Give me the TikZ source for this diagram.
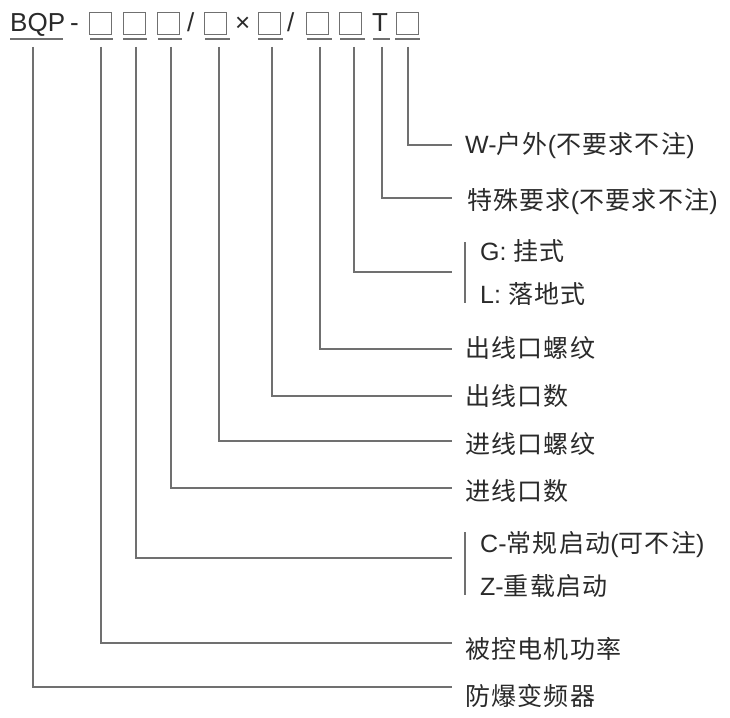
\documentclass[tikz,border=0pt]{standalone}
\usepackage{fontspec}
\setmainfont{Liberation Sans}
\newfontfamily\cjk{Noto Sans CJK SC}[LetterSpace=5]
\definecolor{ln}{HTML}{707070}
\definecolor{tx}{HTML}{2A2A2A}
\begin{document}
\begin{tikzpicture}[x=1pt,y=-1pt,
  lbl/.style={anchor=base west, inner sep=0pt, text=tx, font=\fontsize{25}{25}\selectfont},
  hdr/.style={anchor=base west, inner sep=0pt, text=tx, font=\fontsize{26}{26}\selectfont},
  codebox/.style={draw=ln, line width=1pt, minimum width=22pt, minimum height=22pt, inner sep=0pt, anchor=north west},
  uline/.style={draw=ln, line width=1.3pt},
  conn/.style={draw=ln, line width=1.3pt},
  bracebar/.style={draw=ln, line width=1.1pt}]
\useasboundingbox[fill=white] (0,0) rectangle (730,717);

% header
\node[hdr] (bqp) at (10,32) {BQP};
\node[hdr] (dash) at (70,32) {-};
\node[codebox] (b1) at (89,12) {};
\node[codebox] (b2) at (123,12) {};
\node[codebox] (b3) at (157,12) {};
\node[hdr] (sl1) at (187,32) {/};
\node[codebox] (b4) at (204,12) {};
\node[hdr] (tm) at (235,32) {×};
\node[codebox] (b5) at (258,12) {};
\node[hdr] (sl2) at (287,32) {/};
\node[codebox] (b6) at (306,12) {};
\node[codebox] (b7) at (339,12) {};
\node[hdr] (tt) at (372,32) {T};
\node[codebox] (b8) at (396,12) {};

% underlines
\draw[uline] (10,39) -- (63,39);
\draw[uline] (90,39) -- (113,39);
\draw[uline] (123,39) -- (147,39);
\draw[uline] (158,39) -- (182,39);
\draw[uline] (205,39) -- (230,39);
\draw[uline] (258,39) -- (283,39);
\draw[uline] (307,39) -- (332,39);
\draw[uline] (340,39) -- (365,39);
\draw[uline] (373,39) -- (390,39);
\draw[uline] (395,39) -- (420,39);

% tap points
\coordinate (t0) at (33,47);
\coordinate (t1) at (101,47);
\coordinate (t2) at (136,47);
\coordinate (t3) at (171,47);
\coordinate (t4) at (219,47);
\coordinate (t5) at (272,47);
\coordinate (t6) at (320,47);
\coordinate (t7) at (354,47);
\coordinate (t8) at (382,47);
\coordinate (t9) at (408,47);

% end points
\coordinate (e0) at (452,687);
\coordinate (e1) at (452,643);
\coordinate (e2) at (452,558);
\coordinate (e3) at (452,488);
\coordinate (e4) at (452,441);
\coordinate (e5) at (452,396);
\coordinate (e6) at (452,349);
\coordinate (e7) at (452,272);
\coordinate (e8) at (452,198);
\coordinate (e9) at (452,145);

\foreach \i in {0,...,9} { \draw[conn] (t\i) |- (e\i); }

% labels
\node[lbl] (l9) at (465,153) {W-{\cjk 户外}({\cjk 不要求不注})};
\node[lbl] (l8) at (467,209) {{\cjk 特殊要求}({\cjk 不要求不注})};
\node[lbl] (l7a) at (480,260) {G: {\cjk 挂式}};
\node[lbl] (l7b) at (480,303) {L: {\cjk 落地式}};
\node[lbl] (l6) at (465,357) {{\cjk 出线口螺纹}};
\node[lbl] (l5) at (465,405) {{\cjk 出线口数}};
\node[lbl] (l4) at (465,453) {{\cjk 进线口螺纹}};
\node[lbl] (l3) at (465,500) {{\cjk 进线口数}};
\node[lbl] (l2a) at (480,552) {C-{\cjk 常规启动}({\cjk 可不注})};
\node[lbl] (l2b) at (480,595) {Z-{\cjk 重载启动}};
\node[lbl] (l1) at (465,658) {{\cjk 被控电机功率}};
\node[lbl] (l0) at (465,705) {{\cjk 防爆变频器}};

% brace bars
\draw[bracebar] (465,242) -- (465,303);
\draw[bracebar] (465,532) -- (465,595);
\end{tikzpicture}
\end{document}
